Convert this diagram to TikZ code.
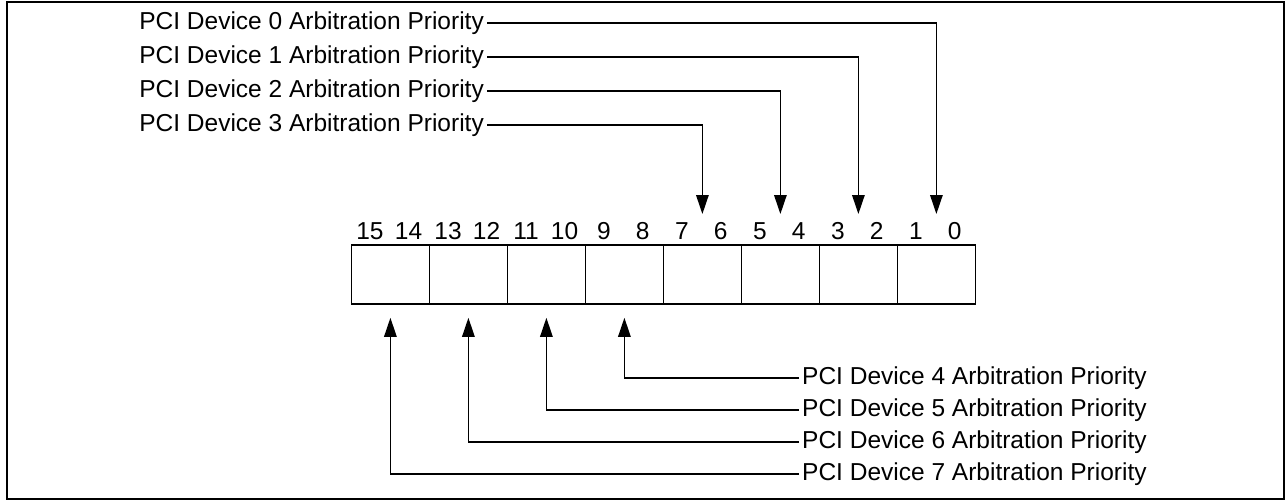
\documentclass[tikz,border=0pt]{standalone}
\usepackage{fontspec}
\setmainfont{Liberation Sans}
\usetikzlibrary{arrows.meta}
\begin{document}
\begin{tikzpicture}[x=1pt,y=-1pt,
  lbl/.style={font=\fontsize{24.5}{28}\selectfont, inner ysep=0pt, inner xsep=3pt},
  bitnum/.style={font=\fontsize{24.5}{28}\selectfont, inner sep=0pt},
  field/.style={draw, line width=1.8pt, minimum width=78pt,
    minimum height=59pt, inner sep=0pt, anchor=north west},
  wire/.style={line width=1.4pt},
  arr/.style={wire, -{Triangle[length=19pt,width=12.5pt]}}]
\useasboundingbox (0,0) rectangle (1286,501);
% outer frame
\draw[line width=2pt] (7,2) rectangle (1284,499);

% register fields, device 7 (bits 15:14) on the left to device 0 (bits 1:0) on the right
\foreach \i in {0,...,7} {
  \pgfmathtruncatemacro{\k}{7-\i}
  \pgfmathtruncatemacro{\hi}{2*\k+1}
  \pgfmathtruncatemacro{\lo}{2*\k}
  \node[field] (d\k) at (350.5+\i*78, 244) {};
  \node[bitnum] (h\k) at (350.5+\i*78+0.25*78, 231) {\hi};
  \node[bitnum] (l\k) at (350.5+\i*78+0.745*78, 231) {\lo};
}

% devices 0-3: labels above, arrows down into fields
\foreach \k/\y in {0/23, 1/57, 2/91, 3/125} {
  \node[lbl, anchor=east] (t\k) at (487, \y) {PCI Device \k{} Arbitration Priority};
  \draw[arr] (t\k.east) -| ([yshift=30pt]d\k.north);
}

% devices 4-7: labels below, arrows up into fields
\foreach \k/\y in {4/378, 5/410, 6/442, 7/474} {
  \node[lbl, anchor=west] (s\k) at (799, \y) {PCI Device \k{} Arbitration Priority};
  \draw[arr] (s\k.west) -| ([yshift=-13pt]d\k.south);
}
\end{tikzpicture}
\end{document}
